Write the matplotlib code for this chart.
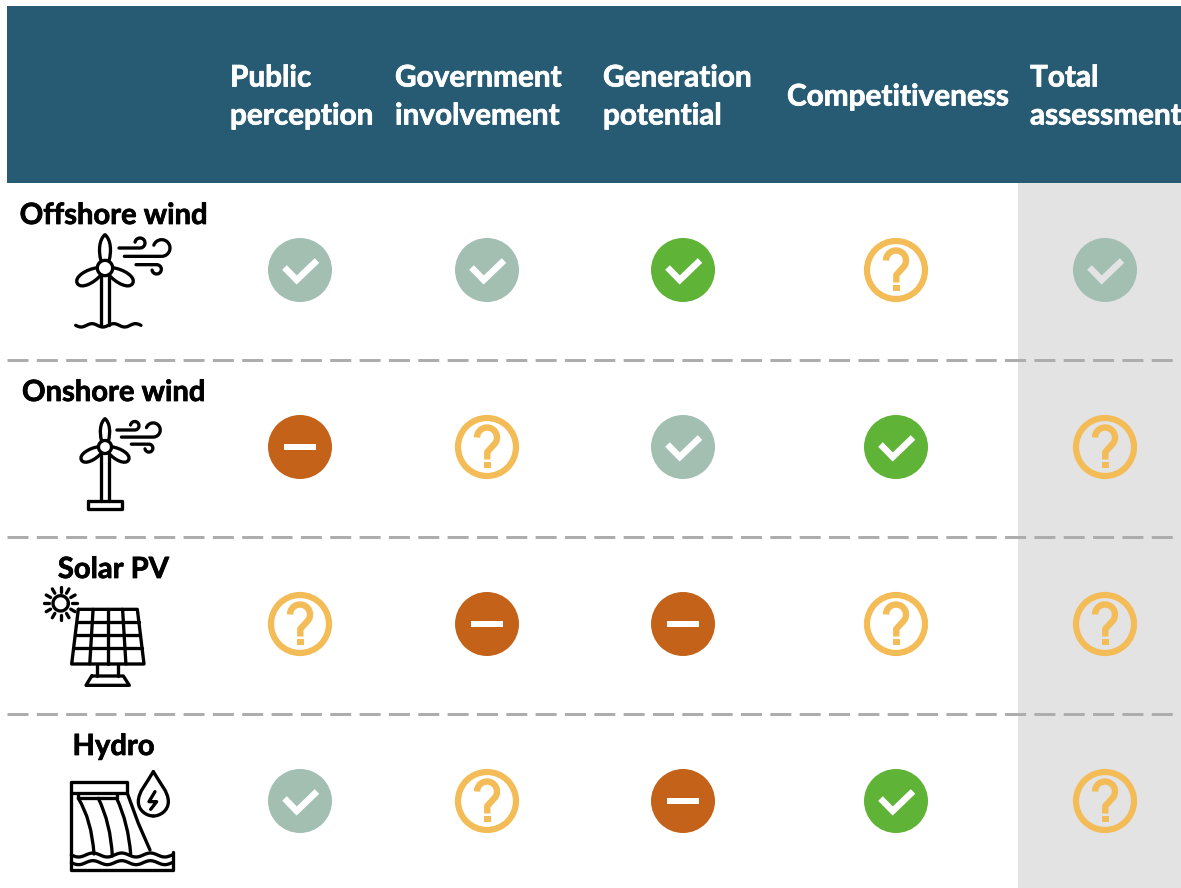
import numpy as np
import matplotlib
matplotlib.use("Agg")
import matplotlib.pyplot as plt
from matplotlib.patches import Rectangle, Circle, PathPatch
from matplotlib.path import Path
from matplotlib.transforms import Affine2D
import matplotlib.patheffects as pe

technologies = ["Offshore wind", "Onshore wind", "Solar PV", "Hydro"]
criteria = ["Public\nperception", "Government\ninvolvement", "Generation\npotential",
            "Competitiveness", "Total\nassessment"]
ratings = [
    ["good", "good", "great", "unknown", "good"],
    ["bad", "unknown", "good", "great", "unknown"],
    ["unknown", "bad", "bad", "unknown", "unknown"],
    ["good", "unknown", "bad", "great", "unknown"],
]

W, H = 1181, 888
NAVY = "#275A73"; GREY = "#E3E3E3"; DASH = "#ADADAD"
COL = {"good": "#A2BFB2", "great": "#5FB336", "unknown": "#F3BC57", "bad": "#C4621A"}
col_x = [300, 487, 683, 896, 1105]
row_y = [270, 447, 624, 801]
head_x = [230, 395, 603, 787, 1030]
FONT = "Lato"
px = 72 / 100

fig = plt.figure(figsize=(W / 100, H / 100), dpi=100, facecolor="white")
ax = fig.add_axes([0, 0, 1, 1])
ax.set_xlim(0, W); ax.set_ylim(H, 0); ax.axis("off")

ax.add_patch(Rectangle((1018, 183), W - 1018, H - 183, fc=GREY, ec="none", zorder=0))
ax.add_patch(Rectangle((7, 6), W - 7, 177, fc=NAVY, ec="none", zorder=1))
for y in [360, 537, 714]:
    ax.plot([7, 1174], [y, y], color=DASH, lw=3 * px, dashes=(7, 2.78),
            dash_capstyle="butt", zorder=2)

def label(x, y, s, color, size, **kw):
    t = ax.text(x, y, s, color=color, fontsize=size, fontweight="bold", family=FONT,
                va="baseline", **kw)
    t.set_path_effects([pe.withStroke(linewidth=0.55, foreground=color)])

HS = 21.4
for x, lab in zip(head_x, criteria):
    lines = lab.split("\n")
    if len(lines) == 2:
        label(x, 86.5, lines[0], "white", HS)
        label(x, 124.5, lines[1], "white", HS)
    else:
        label(x, 105.5, lines[0], "white", HS)

for y, lab in zip(row_y, technologies):
    label(113.5, y - 46, lab, "black", 21, ha="center")

def badge(x, y, kind, bg):
    c = COL[kind]
    if kind == "unknown":
        ax.add_patch(Circle((x, y), 29, fc="none", ec=c, lw=6.2 * px, zorder=3))
        t = np.radians(np.linspace(180, 395, 30))
        pts = np.c_[x + 10 * np.cos(t), y - 9.5 + 10 * np.sin(t)]
        pts = np.r_[pts, [(x + 0.3, y + 5), (x + 0.3, y + 12.5)]]
        ax.plot(pts[:, 0], pts[:, 1], color=c, lw=6.4 * px, solid_capstyle="butt",
                solid_joinstyle="round", zorder=4)
        ax.add_patch(Rectangle((x - 3.3, y + 14.5), 7, 6.3, fc=c, ec="none", zorder=4))
    else:
        ax.add_patch(Circle((x, y), 32, fc=c, ec="none", zorder=3))
        if kind == "bad":
            ax.add_patch(Rectangle((x - 16, y - 3), 32, 6, fc=bg, ec="none", zorder=4))
        else:
            ax.plot([x - 15.5, x - 3.3, x + 17], [y - 2.5, y + 10, y - 9.5], color=bg,
                    lw=6.5 * px, solid_joinstyle="miter", solid_capstyle="butt", zorder=4)

for r, row in enumerate(ratings):
    for c, kind in enumerate(row):
        badge(col_x[c], row_y[r], kind, GREY if c == 4 else "white")

# ---- pictograms (coordinates in local units, 3 units = 1 px at scale 1) ----
LW = 3.3 * px
def stroke(verts, tf, codes=None):
    p = Path(np.array(verts, float), codes)
    ax.add_patch(PathPatch(p.transformed(tf), fc="none", ec="black", lw=LW, zorder=5,
                           capstyle="round", joinstyle="round"))

def arc(cx, cy, r, a0, a1, n=24):
    t = np.radians(np.linspace(a0, a1, n))
    return np.c_[cx + r * np.cos(t), cy + r * np.sin(t)]

def wave(x0, x1, y, amp, n):
    xs = np.linspace(x0, x1, 80)
    return np.c_[xs, y + amp * np.sin((xs - x0) / (x1 - x0) * n * 2 * np.pi)]

C4 = [Path.MOVETO] + [Path.CURVE4] * 6
C3 = [Path.MOVETO, Path.CURVE3, Path.CURVE3]

def turbine(hx, hy, s, tower_end, tail):
    tf0 = Affine2D().scale(s / 3).translate(hx, hy)
    top = [(-12, -22), (-20, -50), (-18, -85), (0, -100), (18, -85), (20, -50), (12, -22)]
    low = [(-12, -20), (-24, -50), (-22, -95), (0, -95), (22, -95), (24, -50), (12, -20)]
    stroke(top, tf0, C4)
    stroke(low, Affine2D().rotate_deg(119) + tf0, C4)
    stroke(low, Affine2D().rotate_deg(-119) + tf0, C4)
    stroke(arc(0, 0, 23, 0, 360, 40), tf0)
    stroke([(-13, 24), (-13, tower_end)], tf0)
    stroke([(13, 24), (13, tower_end)], tf0)
    stroke(np.r_[[(42, -60), (105, -60)], arc(105, -75, 15, 90, -170)], tf0)
    stroke(np.r_[[(58, -35), (170, -35)], arc(170, -60, 25, 90, -160)], tf0)
    stroke(np.r_[[(93, -10), (155, -10)], arc(155, 4, 14, -90, 170)], tf0)
    tail(tf0)

def sea(tf):
    stroke(wave(-88, 108, 172, 5, 3), tf)
def foot(tf):
    stroke([(-60, 190), (60, 190), (60, 218), (-60, 218), (-60, 190)], tf)

turbine(105, 268, 1.0, 172, sea)
turbine(105, 447, 0.85, 190, foot)

def solar(x0, y0):
    tf = Affine2D().scale(1 / 3).translate(x0, y0)
    stroke(arc(182, 190, 23, 0, 360, 40), tf)
    for a in np.arange(0, 360, 30):
        t = np.radians(a)
        stroke([(182 + 35 * np.cos(t), 190 + 35 * np.sin(t)), (182 + 50 * np.cos(t), 190 + 50 * np.sin(t))], tf)
    tl, tr, br, bl = (235, 208), (412, 208), (432, 372), (215, 372)
    stroke([tl, tr, br, bl, tl], tf)
    for f in (0.25, 0.5, 0.75):
        top = tl[0] + f * (tr[0] - tl[0]); bot = bl[0] + f * (br[0] - bl[0])
        stroke([(top, 208), (bot, 372)], tf)
    for f, yy in zip((0.23, 0.47, 0.72), (245, 285, 325)):
        xl = tl[0] + f * (bl[0] - tl[0]); xr = tr[0] + f * (br[0] - tr[0])
        stroke([(xl, yy), (xr, yy)], tf)
    stroke([(292, 372), (292, 408)], tf)
    stroke([(355, 372), (355, 408)], tf)
    stroke([(275, 408), (370, 408), (388, 436), (258, 436), (275, 408)], tf)

solar(0, 540)

def hydro(x0, y0):
    tf = Affine2D().scale(1 / 3).translate(x0, y0)
    stroke([(212, 727), (212, 990), (518, 990), (518, 935)], tf)
    stroke([(212, 727), (382, 727), (382, 760), (212, 760)], tf)
    stroke([(235, 762), (235, 775), (350, 775), (350, 762)], tf)
    stroke([(235, 775), (275, 840), (282, 942)], tf, C3)
    stroke([(295, 775), (332, 850), (337, 948)], tf, C3)
    stroke([(350, 775), (385, 850), (392, 942)], tf, C3)
    stroke([(382, 760), (415, 850), (450, 930)], tf)
    stroke(wave(214, 516, 945, 6, 3.5), tf)
    stroke(wave(214, 516, 968, 6, 3.5), tf)
    stroke([(460, 695), (440, 730), (415, 755), (415, 785), (415, 812), (440, 828), (460, 828)], tf, C4)
    stroke([(460, 695), (480, 730), (505, 755), (505, 785), (505, 812), (480, 828), (460, 828)], tf, C4)
    stroke([(465, 755), (447, 785), (470, 785), (452, 808)], tf)

hydro(0, 540)

fig.savefig("out.png", dpi=100, facecolor="white")
